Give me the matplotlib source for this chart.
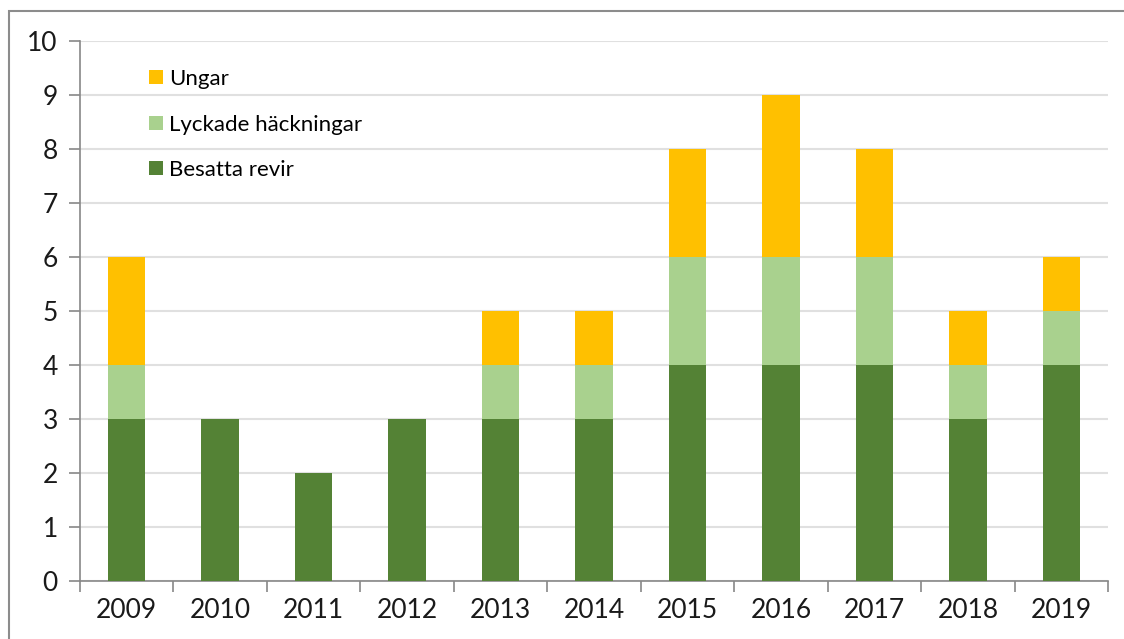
import matplotlib.pyplot as plt
from matplotlib.patches import Rectangle

years = ["2009", "2010", "2011", "2012", "2013", "2014", "2015", "2016", "2017", "2018", "2019"]
besatta = [3, 3, 2, 3, 3, 3, 4, 4, 4, 3, 4]
lyckade = [1, 0, 0, 0, 1, 1, 2, 2, 2, 1, 1]
ungar = [2, 0, 0, 0, 1, 1, 2, 3, 2, 1, 1]

c_besatta = "#548235"
c_lyckade = "#A9D18E"
c_ungar = "#FFC000"

plt.rcParams['font.family'] = ['Lato', 'DejaVu Sans']

fig = plt.figure(figsize=(11.24, 6.39), dpi=100)
ax = fig.add_axes([80 / 1124, 1 - 581 / 639, (1108 - 80) / 1124, (581 - 41) / 639])

x = range(len(years))
bottom2 = [b + l for b, l in zip(besatta, lyckade)]
ax.bar(x, besatta, width=0.4, color=c_besatta, label="Besatta revir", zorder=3)
ax.bar(x, lyckade, width=0.4, bottom=besatta, color=c_lyckade, label="Lyckade häckningar", zorder=3)
ax.bar(x, ungar, width=0.4, bottom=bottom2, color=c_ungar, label="Ungar", zorder=3)

ax.set_xlim(-0.5, len(years) - 0.5)
ax.set_ylim(0, 10)
ax.set_yticks(range(0, 11))
ax.set_xticks(x)
ax.set_xticklabels(years)
ax.set_xticks([i - 0.5 for i in range(len(years) + 1)], minor=True)
ax.tick_params(axis='x', which='major', length=0, labelsize=19, pad=12, colors='#1a1a1a')
ax.tick_params(axis='x', which='minor', length=8, color='#888888', width=1.2)
ax.tick_params(axis='y', length=8, color='#888888', width=1.2, labelsize=19, pad=8, colors='#1a1a1a')
ax.tick_params(axis='y', color='#888888')

ax.grid(axis='y', color='#e0e0e0', linewidth=1.5, zorder=0)
for s in ['top', 'right']:
    ax.spines[s].set_visible(False)
for s in ['left', 'bottom']:
    ax.spines[s].set_color('#888888')
    ax.spines[s].set_linewidth(1.2)

handles, labels = ax.get_legend_handles_labels()
leg = ax.legend(handles[::-1], labels[::-1], loc='upper left', bbox_to_anchor=(0.048, 0.985),
                frameon=False, fontsize=16, handlelength=0.6, handleheight=0.6,
                handletextpad=0.3, labelspacing=1.15)

fig.patches.append(Rectangle((9 / 1124, -0.1), 1.2, 1 - 11 / 639 + 0.1, transform=fig.transFigure,
                             fill=False, edgecolor='#8c8c8c', linewidth=1.5))

fig.savefig("out.png", dpi=100)
